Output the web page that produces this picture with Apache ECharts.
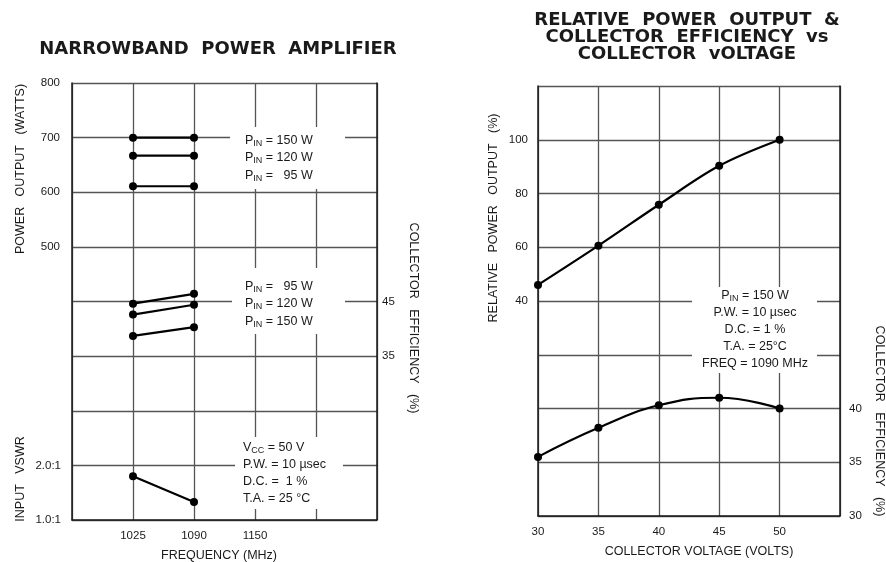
<!DOCTYPE html>
<html>
<head>
<meta charset="utf-8">
<script src="https://cdn.jsdelivr.net/npm/echarts@6/dist/echarts.min.js"></script>
<style>
  body { margin: 0; background: #fff; }
  #chart { width: 886px; height: 562px; }
</style>
</head>
<body>
<div id="chart"></div>
<script>
// left panel: narrowband amplifier
const freqCats = ["", "1025", "1090", "1150", "", ""];
const freqPts = ["1025", "1090"];
const pout150 = [700, 700];
const pout120 = [667, 667];
const pout95 = [611, 611];
const eff95 = [44.6, 46.4];
const eff120 = [42.6, 44.4];
const eff150 = [38.7, 40.3];
const vswr = [1.8, 1.33];
const poutTicks = [500, 600, 700, 800];
const effTicksL = [35, 45];
const vswrTicks = { 1: "1.0:1", 2: "2.0:1" };

// right panel: relative power & efficiency vs collector voltage
const volts = [30, 35, 40, 45, 50];
const relPower = [46, 60.6, 75.8, 90.3, 100];
const effVolt = [35.5, 38.2, 40.3, 41.0, 40.0];
const relTicks = [40, 60, 80, 100];
const effTicksR = [30, 35, 40];

const ink = "#1a1a1a";
const gridLine = { show: true, lineStyle: { color: "#555", width: 1.3 } };
const lblFont = { color: ink, fontSize: 11.5, fontFamily: "Liberation Sans" };

function pairs(xs, ys) {
  return xs.map((x, i) => [x, ys[i]]);
}

function lineSeries(data, xIdx, yIdx, smooth) {
  return {
    type: "line",
    xAxisIndex: xIdx,
    yAxisIndex: yIdx,
    data: data,
    smooth: smooth || false,
    symbol: "circle",
    symbolSize: 8,
    itemStyle: { color: "#000" },
    lineStyle: { color: "#000", width: 2.2 },
    z: 5,
  };
}

function txt(x, y, text, opts) {
  opts = opts || {};
  return {
    type: "text",
    x: x,
    y: y,
    rotation: opts.rotation || 0,
    z: 60,
    style: {
      text: text,
      align: opts.align || "center",
      verticalAlign: "middle",
      fill: ink,
      font: opts.font || "12.5px 'Liberation Sans'",
      lineHeight: opts.lineHeight || 17,
      rich: {
        s: { fontSize: 9, fontFamily: "Liberation Sans", fill: ink, padding: [6, 0, 0, 0] },
      },
    },
  };
}

function box(x, y, w, h) {
  return { type: "rect", z: 55, shape: { x: x, y: y, width: w, height: h }, style: { fill: "#fff" } };
}

let chart = echarts.init(document.getElementById("chart"));

let option = {
  animation: false,
  backgroundColor: "#fff",
  grid: [
    { left: 72, top: 83, width: 305, height: 437 },
    { left: 538, top: 86, width: 302, height: 430 },
  ],
  xAxis: [
    {
      gridIndex: 0,
      type: "category",
      data: freqCats,
      boundaryGap: false,
      axisLine: { show: true, onZero: false, lineStyle: { color: ink, width: 1.5 } },
      axisTick: { show: false },
      axisLabel: Object.assign({ margin: 10 }, lblFont),
      splitLine: gridLine,
    },
    {
      gridIndex: 1,
      type: "value",
      min: 30,
      max: 55,
      interval: 5,
      axisLine: { show: true, onZero: false, lineStyle: { color: ink, width: 1.5 } },
      axisTick: { show: false },
      axisLabel: Object.assign({ margin: 10, formatter: (v) => (volts.includes(v) ? String(v) : "") }, lblFont),
      splitLine: gridLine,
    },
  ],
  yAxis: [
    {
      // 0: power output
      gridIndex: 0,
      type: "value",
      position: "left",
      min: 0,
      max: 800,
      interval: 100,
      axisLine: { show: true, onZero: false, lineStyle: { color: ink, width: 1.5 } },
      axisTick: { show: false },
      axisLabel: Object.assign({ margin: 12, formatter: (v) => (poutTicks.includes(v) ? String(v) : "") }, lblFont),
      splitLine: gridLine,
    },
    {
      // 1: collector efficiency (left panel)
      gridIndex: 0,
      type: "value",
      position: "right",
      min: 5,
      max: 85,
      interval: 10,
      axisLine: { show: true, onZero: false, lineStyle: { color: ink, width: 1.5 } },
      axisTick: { show: false },
      axisLabel: Object.assign({ margin: 5, formatter: (v) => (effTicksL.includes(v) ? String(v) : "") }, lblFont),
      splitLine: { show: false },
    },
    {
      // 2: input vswr
      gridIndex: 0,
      type: "value",
      position: "left",
      offset: 0,
      min: 1,
      max: 9,
      interval: 1,
      axisLine: { show: false, onZero: false },
      axisTick: { show: false },
      axisLabel: Object.assign({ margin: 11, formatter: (v) => vswrTicks[v] || "" }, lblFont),
      splitLine: { show: false },
    },
    {
      // 3: relative power output
      gridIndex: 1,
      type: "value",
      position: "left",
      min: -40,
      max: 120,
      interval: 20,
      axisLine: { show: true, onZero: false, lineStyle: { color: ink, width: 1.5 } },
      axisTick: { show: false },
      axisLabel: Object.assign({ margin: 10, formatter: (v) => (relTicks.includes(v) ? String(v) : "") }, lblFont),
      splitLine: gridLine,
    },
    {
      // 4: collector efficiency (right panel)
      gridIndex: 1,
      type: "value",
      position: "right",
      min: 30,
      max: 70,
      interval: 5,
      axisLine: { show: true, onZero: false, lineStyle: { color: ink, width: 1.5 } },
      axisTick: { show: false },
      axisLabel: Object.assign({ margin: 9, formatter: (v) => (effTicksR.includes(v) ? String(v) : "") }, lblFont),
      splitLine: { show: false },
    },
  ],
  series: [
    lineSeries(pairs(freqPts, pout150), 0, 0),
    lineSeries(pairs(freqPts, pout120), 0, 0),
    lineSeries(pairs(freqPts, pout95), 0, 0),
    lineSeries(pairs(freqPts, eff95), 0, 1),
    lineSeries(pairs(freqPts, eff120), 0, 1),
    lineSeries(pairs(freqPts, eff150), 0, 1),
    lineSeries(pairs(freqPts, vswr), 0, 2),
    lineSeries(pairs(volts, relPower), 1, 3, 0.35),
    lineSeries(pairs(volts, effVolt), 1, 4, 0.45),
  ],
  graphic: {
    elements: [
      // titles
      txt(218, 49, "NARROWBAND  POWER  AMPLIFIER", { font: "bold 18px 'DejaVu Sans'" }),
      txt(687, 37, "RELATIVE  POWER  OUTPUT  &\nCOLLECTOR  EFFICIENCY  vs\nCOLLECTOR  vOLTAGE", {
        font: "bold 18px 'DejaVu Sans'",
        lineHeight: 17,
      }),
      // axis names
      txt(21, 169, "POWER   OUTPUT   (WATTS)", { rotation: Math.PI / 2 }),
      txt(21, 479, "INPUT   VSWR", { rotation: Math.PI / 2 }),
      txt(413, 318, "COLLECTOR   EFFICIENCY   (%)", { rotation: -Math.PI / 2 }),
      txt(219, 556, "FREQUENCY (MHz)"),
      txt(494, 218, "RELATIVE   POWER   OUTPUT   (%)", { rotation: Math.PI / 2 }),
      txt(879, 421, "COLLECTOR   EFFICIENCY   (%)", { rotation: -Math.PI / 2 }),
      txt(699, 552, "COLLECTOR VOLTAGE (VOLTS)"),
      // annotation blocks (white boxes break the grid like the original)
      box(230, 127, 115, 62),
      txt(245, 158, "P{s|IN} = 150 W\nP{s|IN} = 120 W\nP{s|IN} =   95 W", { align: "left", lineHeight: 17.5 }),
      box(232, 268, 113, 66),
      txt(245, 304, "P{s|IN} =   95 W\nP{s|IN} = 120 W\nP{s|IN} = 150 W", { align: "left", lineHeight: 17.5 }),
      box(235, 437, 108, 72),
      txt(243, 473, "V{s|CC} = 50 V\nP.W. = 10 µsec\nD.C. =  1 %\nT.A. = 25 °C", { align: "left", lineHeight: 17 }),
      box(692, 287, 125, 86),
      txt(755, 330, "P{s|IN} = 150 W\nP.W. = 10 µsec\nD.C. = 1 %\nT.A. = 25°C\nFREQ = 1090 MHz", { lineHeight: 17 }),
    ],
  },
};

chart.setOption(option);
</script>
</body>
</html>
